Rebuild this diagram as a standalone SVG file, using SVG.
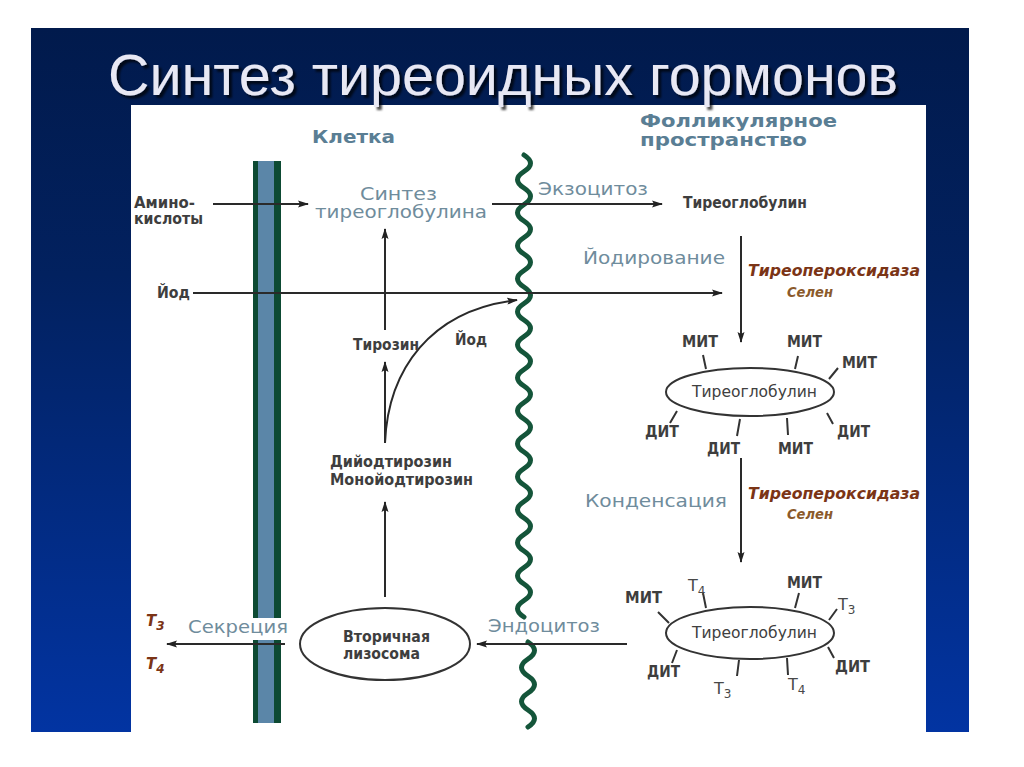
<svg xmlns="http://www.w3.org/2000/svg" width="1024" height="767" viewBox="0 0 1024 767">
<defs>
<linearGradient id="bg" x1="0" y1="0" x2="0" y2="1">
<stop offset="0" stop-color="#011a4c"/>
<stop offset="0.35" stop-color="#02215f"/>
<stop offset="1" stop-color="#0234a2"/>
</linearGradient>
<filter id="shadow" x="-5%" y="-20%" width="110%" height="150%">
<feDropShadow dx="3" dy="3" stdDeviation="1" flood-color="#000" flood-opacity="0.7"/>
</filter>
<marker id="ah" markerWidth="11" markerHeight="8" refX="10" refY="4" orient="auto" markerUnits="userSpaceOnUse">
<path d="M0,0.5 L11,4 L0,7.5 L2,4 z" fill="#222"/>
</marker>
<style>
.ln{stroke:#2a2a2a;stroke-width:2;fill:none}
.sp{stroke:#333;stroke-width:2;fill:none}
.lt{font-family:"DejaVu Sans",Verdana,sans-serif;font-size:17px;fill:#6f8c9c}
.bd{font-family:"DejaVu Sans",Verdana,sans-serif;font-weight:bold;font-size:15px;fill:#3e3e3e}
.hd{font-family:"DejaVu Sans",Verdana,sans-serif;font-weight:bold;font-size:17px;fill:#5a7e94}
.br{font-family:"DejaVu Sans",Verdana,sans-serif;font-weight:bold;font-style:italic;font-size:15px;fill:#7b3416}
.se{font-family:"DejaVu Sans",Verdana,sans-serif;font-style:italic;font-weight:bold;font-size:14px;fill:#8b5a2b}
.el{fill:#fff;stroke:#333;stroke-width:2}
.rg{font-family:"DejaVu Sans",Verdana,sans-serif;font-size:15px;fill:#404040}
.tn{font-family:"DejaVu Sans",Verdana,sans-serif;font-size:16px;fill:#484848}
</style>
</defs>
<rect x="0" y="0" width="1024" height="767" fill="#fff"/>
<rect x="31" y="28" width="938" height="704" fill="url(#bg)"/>
<rect x="131" y="105" width="795" height="627" fill="#fff"/>
<g id="title">
<text x="108" y="95" font-family="Liberation Sans, Arial, sans-serif" font-size="57" fill="#e8e8f4" filter="url(#shadow)" textLength="790" lengthAdjust="spacingAndGlyphs">Синтез тиреоидных гормонов</text>
</g>
<g id="cell-membrane">
<rect x="253" y="161" width="28" height="457" fill="#0d4a33"/>
<rect x="258" y="161" width="16" height="457" fill="#5b86a8"/>
<rect x="253" y="640" width="28" height="83" fill="#0d4a33"/>
<rect x="258" y="640" width="16" height="83" fill="#5b86a8"/>
</g>
<g id="follicle-membrane" fill="none" stroke="#14553a" stroke-width="5" stroke-linecap="round">
<path d="M524,155 q13,8.25 0,16.5 t0,16.5 t0,16.5 t0,16.5 t0,16.5 t0,16.5 t0,16.5 t0,16.5 t0,16.5 t0,16.5 t0,16.5 t0,16.5 t0,16.5 t0,16.5 t0,16.5 t0,16.5 t0,16.5 t0,16.5 t0,16.5 t0,16.5 t0,16.5 t0,16.5 t0,16.5 t0,16.5 t0,16.5 t0,16.5 t0,16.5 t0,16.5"/>
<path d="M528,642 q13,8.5 0,17 t0,17 t0,17 t0,17 t0,17"/>
</g>
<g id="headers">
<text class="hd" x="312" y="143" font-size="18" textLength="83" lengthAdjust="spacingAndGlyphs">Клетка</text>
<text class="hd" x="640" y="127" font-size="16" textLength="197" lengthAdjust="spacingAndGlyphs">Фолликулярное</text>
<text class="hd" x="640" y="146" font-size="16" textLength="167" lengthAdjust="spacingAndGlyphs">пространство</text>
</g>
<g id="connectors">
<line class="ln" x1="213" y1="204" x2="308" y2="204" marker-end="url(#ah)"/>
<line class="ln" x1="492" y1="204" x2="662" y2="204" marker-end="url(#ah)"/>
<line class="ln" x1="193" y1="293" x2="722" y2="293" marker-end="url(#ah)"/>
<line class="ln" x1="741" y1="236" x2="741" y2="342" marker-end="url(#ah)"/>
<line class="ln" x1="741" y1="458" x2="741" y2="562" marker-end="url(#ah)"/>
<line class="ln" x1="385" y1="330" x2="385" y2="229" marker-end="url(#ah)"/>
<line class="ln" x1="385" y1="443" x2="385" y2="362" marker-end="url(#ah)"/>
<path class="ln" d="M385,443 C388,370 430,310 517,300" marker-end="url(#ah)"/>
<line class="ln" x1="385" y1="597" x2="385" y2="502" marker-end="url(#ah)"/>
<line class="ln" x1="627" y1="644" x2="477" y2="644" marker-end="url(#ah)"/>
<line class="ln" x1="285" y1="644" x2="167" y2="644" marker-end="url(#ah)"/>
</g>
<g id="amino">
<text class="bd" x="134" y="208" textLength="61" lengthAdjust="spacingAndGlyphs">Амино-</text>
<text class="bd" x="134" y="224" textLength="69" lengthAdjust="spacingAndGlyphs">кислоты</text>
</g>
<g id="synthesis">
<text class="lt" x="360" y="200" textLength="77" lengthAdjust="spacingAndGlyphs">Синтез</text>
<text class="lt" x="315" y="218" textLength="172" lengthAdjust="spacingAndGlyphs">тиреоглобулина</text>
</g>
<g id="labels">
<text class="lt" x="538" y="195" textLength="110" lengthAdjust="spacingAndGlyphs">Экзоцитоз</text>
<text class="bd" x="683" y="208" textLength="124" lengthAdjust="spacingAndGlyphs">Тиреоглобулин</text>
<text class="lt" x="583" y="264" textLength="142" lengthAdjust="spacingAndGlyphs">Йодирование</text>
<text class="br" x="748" y="276" textLength="172" lengthAdjust="spacingAndGlyphs">Тиреопероксидаза</text>
<text class="se" x="787" y="297" textLength="46" lengthAdjust="spacingAndGlyphs">Селен</text>
<text class="bd" x="157" y="298" textLength="33" lengthAdjust="spacingAndGlyphs">Йод</text>
<text class="bd" x="353" y="350" textLength="66" lengthAdjust="spacingAndGlyphs">Тирозин</text>
<text class="bd" x="455" y="345" textLength="32" lengthAdjust="spacingAndGlyphs">Йод</text>
<text class="bd" x="330" y="467" textLength="122" lengthAdjust="spacingAndGlyphs">Дийодтирозин</text>
<text class="bd" x="330" y="485" textLength="143" lengthAdjust="spacingAndGlyphs">Монойодтирозин</text>
<text class="lt" x="585" y="507" textLength="142" lengthAdjust="spacingAndGlyphs">Конденсация</text>
<text class="br" x="748" y="499" textLength="172" lengthAdjust="spacingAndGlyphs">Тиреопероксидаза</text>
<text class="se" x="787" y="519" textLength="46" lengthAdjust="spacingAndGlyphs">Селен</text>
<text class="lt" x="488" y="632" textLength="112" lengthAdjust="spacingAndGlyphs">Эндоцитоз</text>
<text class="lt" x="188" y="633" textLength="100" lengthAdjust="spacingAndGlyphs">Секреция</text>
</g>
<g id="output-hormones" font-family="DejaVu Sans, Verdana, sans-serif" font-weight="bold" font-style="italic" fill="#7b3416">
<text x="146" y="626" font-size="15">T<tspan font-size="12" dy="4">3</tspan></text>
<text x="146" y="669" font-size="15">T<tspan font-size="12" dy="4">4</tspan></text>
</g>
<g id="lysosome">
<ellipse class="el" cx="385" cy="644" rx="85" ry="36"/>
<text class="bd" x="343" y="642" textLength="87" lengthAdjust="spacingAndGlyphs">Вторичная</text>
<text class="bd" x="343" y="659" textLength="77" lengthAdjust="spacingAndGlyphs">лизосома</text>
</g>
<g id="thyroglobulin-iodinated">
<path class="sp" d="M703,355 L706,369 M798,356 L795,369 M838,368 L829,379 M677,411 L670,423 M740,419 L737,436 M787,418 L788,435 M827,413 L833,424"/>
<ellipse class="el" cx="750" cy="392" rx="84" ry="24"/>
<text class="rg" x="692" y="397" textLength="125" lengthAdjust="spacingAndGlyphs">Тиреоглобулин</text>
<g class="bd">
<text x="682" y="347" textLength="36" lengthAdjust="spacingAndGlyphs">МИТ</text>
<text x="787" y="347" textLength="35" lengthAdjust="spacingAndGlyphs">МИТ</text>
<text x="842" y="368" textLength="35" lengthAdjust="spacingAndGlyphs">МИТ</text>
<text x="645" y="437" textLength="34" lengthAdjust="spacingAndGlyphs">ДИТ</text>
<text x="707" y="454" textLength="33" lengthAdjust="spacingAndGlyphs">ДИТ</text>
<text x="778" y="454" textLength="35" lengthAdjust="spacingAndGlyphs">МИТ</text>
<text x="837" y="437" textLength="33" lengthAdjust="spacingAndGlyphs">ДИТ</text>
</g>
</g>
<g id="thyroglobulin-condensed">
<path class="sp" d="M658,612 L669,623 M703,593 L706,608 M799,593 L795,608 M837,609 L829,620 M677,650 L672,663 M739,660 L737,676 M787,658 L788,675 M828,647 L834,658"/>
<ellipse class="el" cx="750" cy="633" rx="84" ry="26"/>
<text class="rg" x="692" y="638" textLength="125" lengthAdjust="spacingAndGlyphs">Тиреоглобулин</text>
<g class="bd">
<text x="625" y="603" textLength="37" lengthAdjust="spacingAndGlyphs">МИТ</text>
<text x="787" y="588" textLength="35" lengthAdjust="spacingAndGlyphs">МИТ</text>
<text x="647" y="677" textLength="33" lengthAdjust="spacingAndGlyphs">ДИТ</text>
<text x="835" y="672" textLength="35" lengthAdjust="spacingAndGlyphs">ДИТ</text>
</g>
<g class="tn">
<text x="688" y="591">T<tspan font-size="12" dy="4">4</tspan></text>
<text x="838" y="610">T<tspan font-size="12" dy="4">3</tspan></text>
<text x="714" y="694">T<tspan font-size="12" dy="4">3</tspan></text>
<text x="788" y="690">T<tspan font-size="12" dy="4">4</tspan></text>
</g>
</g>
</svg>
